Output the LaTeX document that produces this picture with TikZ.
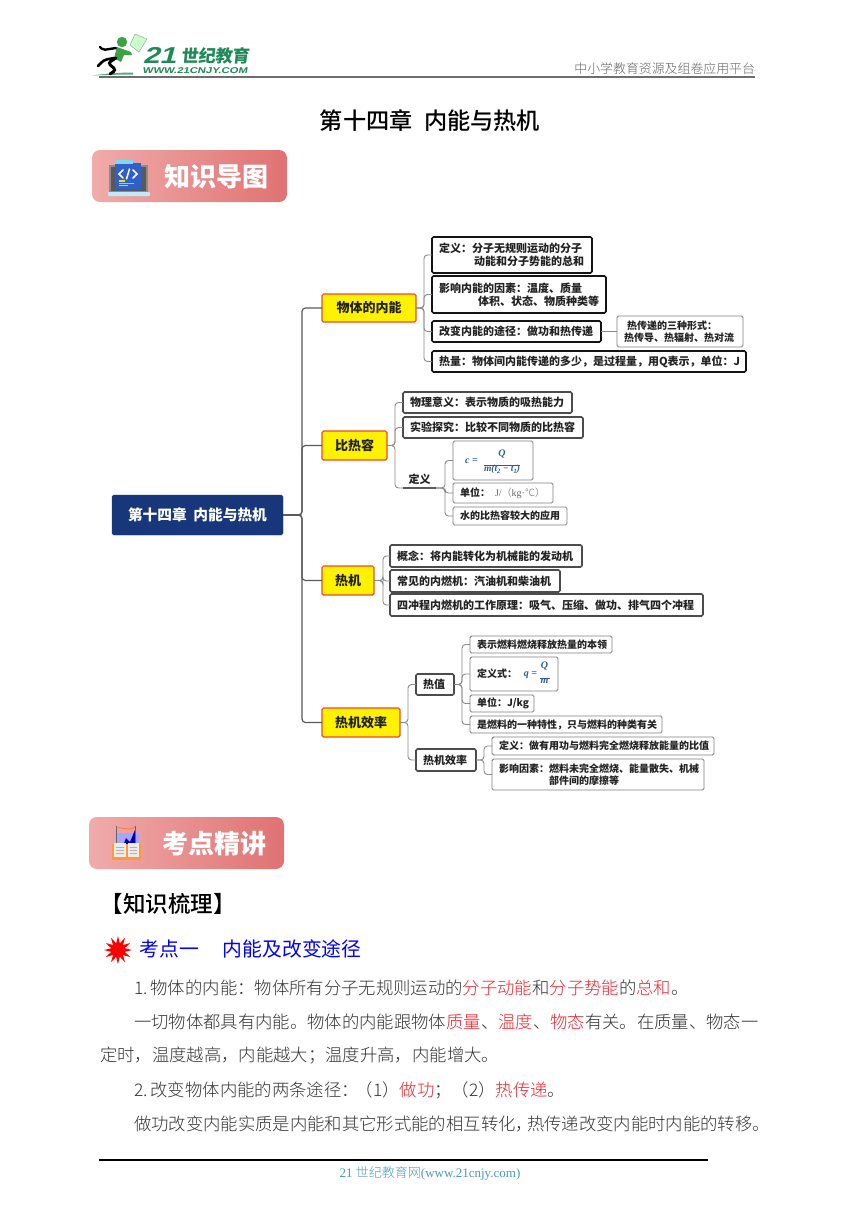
\documentclass[tikz,border=0pt]{standalone}
\usepackage{fontspec}
\setmainfont{Noto Sans CJK SC}
\newfontfamily\lightcjk{Noto Sans CJK SC Light}
\newfontfamily\medcjk{Noto Sans CJK SC Medium}
\newfontfamily\sansbold[BoldFont=Liberation Sans Bold]{Liberation Sans}
\newfontfamily\serifl{Liberation Serif}
\usetikzlibrary{shapes.geometric}
\definecolor{navy}{HTML}{17377A}
\definecolor{conn}{HTML}{8A8A8A}
\definecolor{connd}{HTML}{5A5A5A}
\definecolor{boxred}{HTML}{F0472B}
\definecolor{logog}{HTML}{1F8A58}
\definecolor{headgray}{HTML}{6E6E6E}
\definecolor{formula}{HTML}{2F5C98}
\definecolor{footblue}{HTML}{4A9AC4}
\definecolor{txt}{HTML}{222222}
\definecolor{bodytxt}{HTML}{333333}
\definecolor{redt}{HTML}{F5222D}
\definecolor{docblue}{HTML}{2F5FC8}
\newcommand\fs[1]{\fontsize{#1}{#1}\selectfont}
\newcommand\red[1]{{\color{redt}#1}}
\newcommand\lowsub[1]{\raisebox{-1.5pt}{\fs{6.5}#1}}
% style, name, x1, y1, x2, y2, text
\newcommand\bx[7]{%
  \pgfmathsetmacro\bxw{#5-#3-14}%
  \pgfmathsetmacro\bxh{#6-#4}%
  \pgfmathsetmacro\bxy{(#4+#6)/2}%
  \node[#1,anchor=west,text width=\bxw pt,minimum height=\bxh pt] (#2) at (#3,\bxy) {#7};}
\tikzset{
  x=1pt,y=-1pt,
  basebox/.style={rounded corners=1.6pt,inner xsep=7pt,inner ysep=0pt,outer sep=0pt,align=left,font=\fs{11}\bfseries,text=txt},
  blackbox/.style={basebox,draw=black!92,line width=1.6pt},
  darkbox/.style={basebox,draw=black!70,line width=1.6pt},
  thinbox/.style={basebox,draw=black!50,line width=.9pt,font=\fs{10}\bfseries},
  yellowbox/.style={basebox,fill=yellow,draw=boxred,line width=1.2pt,align=center,font=\fs{13}\bfseries},
  rootbox/.style={basebox,fill=navy,draw=navy,align=center,text=white,font=\fs{14.7}\bfseries},
  trunk/.style={draw=connd,line width=1.2pt,rounded corners=3.5pt},
  branch/.style={draw=conn,line width=.9pt,rounded corners=3.5pt},
  banner/.style={rounded corners=8pt,left color=#1,right color=bannerr,draw=none},
  plain/.style={inner sep=0pt,outer sep=0pt,anchor=west},
  bodyline/.style={plain,text=bodytxt,font=\lightcjk\fs{17.35}},
  fml/.style={inner sep=0pt,outer sep=0pt,text=formula,font=\serifl\bfseries\itshape\fs{10}},
}
\definecolor{bannerl}{HTML}{F0ABAB}
\definecolor{bannerr}{HTML}{E07272}
\begin{document}
\begin{tikzpicture}
\useasboundingbox (0,0) rectangle (860,1216);
\fill[white] (0,0) rectangle (860,1216);

% ---------- header logo
\fill[logog!75!white] (92,75.5) .. controls (110,73) and (125,72.5) .. (133,72.5) -- (133,74.5) .. controls (120,74.5) and (105,75) .. (92,75.5) -- cycle;
\fill[green!22!white,draw=black!40,line width=.4pt] (135,34) -- (147,39) -- (139,52) -- (130,45) -- cycle;
\fill[logog!80!lime] (122,42) circle (5.2);
\fill[logog!80!lime] (117,47) -- (131,52) -- (132,55) -- (124,55) -- (121,62) -- (114,58) -- cycle;
\draw[black,line width=2.4pt,line cap=round,rounded corners=2pt] (116,48) -- (103,50) -- (100,47);
\draw[black,line width=3pt,line cap=round,rounded corners=3pt] (116,58) -- (108,63) -- (116,70) -- (110,74);
\draw[black,line width=2.6pt,line cap=round,rounded corners=3pt] (114,58) -- (104,60) -- (98,66);
\node[plain,text=logog,xslant=.28,font=\sansbold\bfseries\fs{23}] (logoa) at (145,55.5) {\scalebox{1.3}[1]{21}};
\node[plain,text=logog,font=\bfseries\fs{17.2},xslant=.1] (logob) at (182,55.5) {世纪教育};
\node[plain,text=logog,xslant=.2,font=\sansbold\bfseries\fs{8.4}] (logoc) at (143,70.6) {\scalebox{1.34}[1]{WWW.21CNJY.COM}};
\node[plain,anchor=east,text=black!60,font=\lightcjk\fs{12.9}] (headt) at (755,68.5) {中小学教育资源及组卷应用平台};
\coordinate (hra) at (99,77); \coordinate (hrb) at (755,77);
\draw[headgray,line width=1.8pt] (hra) -- (hrb);

% ---------- title
\node[inner sep=0pt,text=black,font=\medcjk\fs{23.2}] (title) at (430,121) {第十四章\hspace{.5em}内能与热机};

% ---------- banner 1
\path[banner=bannerl] (92,150) rectangle (287,202);
\node[plain,text=white,font=\bfseries\fs{26}] (bant) at (164,177) {知识导图};
\fill[black!45] (109,165) rectangle (148,193);
\fill[black!65] (111,167) rectangle (146,191);
\fill[docblue] (115,163) rectangle (141,189);
\fill[cyan!50!white] (115,160) rectangle (133,164);
\fill[cyan!25!white,rounded corners=.8pt] (108,192) rectangle (150,196);
\draw[white,line width=1.5pt,line cap=round] (123,170) -- (119,174) -- (123,178);
\draw[white,line width=1.5pt,line cap=round] (133,170) -- (137,174) -- (133,178);
\draw[white,line width=1.5pt,line cap=round] (129.5,169) -- (126.5,179);
\fill[yellow!80!orange] (119,180) rectangle (125,181.5);
\fill[cyan!50!white] (119,182.5) rectangle (134,183.5);
\fill[cyan!40!white] (119,185) rectangle (128,186);

% ---------- mind map nodes
\bx{rootbox}{root}{112}{495}{283}{535}{第十四章\hspace{.45em}内能与热机}

\bx{yellowbox}{wnn}{322}{294}{416}{322}{物体的内能}
\bx{blackbox}{wa}{432}{237}{592}{273}{定义：分子无规则运动的分子\\[2pt]\hspace*{35pt}动能和分子势能的总和}
\bx{blackbox}{wb}{432}{276}{606}{313}{影响内能的因素：温度、质量\\[2pt]\hspace*{39pt}体积、状态、物质种类等}
\bx{blackbox}{wc}{432}{321}{601}{342}{改变内能的途径：做功和热传递}
\bx{thinbox}{wd}{617}{316}{743}{347}{\hspace*{3pt}热传递的三种形式：\\[2pt]热传导、热辐射、热对流}
\bx{blackbox}{we}{432}{351}{746}{372}{热量：物体间内能传递的多少，是过程量，用Q表示，单位：J}

\bx{yellowbox}{brr}{322}{431}{387}{460}{比热容}
\bx{darkbox}{ba}{403}{392}{572}{413}{物理意义：表示物质的吸热能力}
\bx{darkbox}{bb}{403}{417}{583}{438}{实验探究：比较不同物质的比热容}
\node[inner sep=0pt,outer sep=0pt,minimum width=33pt,minimum height=18pt,font=\fs{11}\bfseries,text=txt] (bdef) at (419.5,479) {定义};
\draw[connd,line width=1.6pt] (bdef.south west) -- (bdef.south east);
\bx{thinbox}{bf}{453}{441}{533}{480}{}
\node[fml] (bfc) at (471.5,461.5) {c = };
\node[fml] (bfq) at (502,453.5) {Q};
\node[fml,font=\serifl\bfseries\itshape\fs{9.5}] (bfd) at (502,469.5) {m(t\lowsub{2} − t\lowsub{1})};
\draw[formula,line width=.7pt] (bfd.north west) -- (bfd.north east);
\bx{thinbox}{bu}{453}{483}{553}{503}{\mbox{单位：\hspace{5pt}{\mdseries\color{black!60}{\serifl J/}{\lightcjk（}{\serifl kg·}{\lightcjk ℃）}}}}
\bx{thinbox}{bw}{453}{507}{567}{525}{水的比热容较大的应用}

\bx{yellowbox}{rj}{322}{566}{374}{595}{热机}
\bx{darkbox}{ra}{390}{545}{582}{567}{概念：将内能转化为机械能的发动机}
\bx{darkbox}{rb}{390}{570}{560}{592}{常见的内燃机：汽油机和柴油机}
\bx{darkbox}{rc}{390}{594}{703}{616}{四冲程内燃机的工作原理：吸气、压缩、做功、排气四个冲程}

\bx{yellowbox}{rx}{322}{708}{400}{737}{热机效率}
\bx{darkbox}{ha}{416}{674}{454}{695}{热值}
\bx{darkbox}{hb}{416}{749}{476}{771}{热机效率}
\bx{thinbox}{haa}{470}{636}{612}{653}{表示燃料燃烧释放热量的本领}
\bx{thinbox}{hab}{470}{657}{558}{691}{定义式：}
\node[fml] (hfc) at (530.5,675) {q = };
\node[fml] (hfq) at (544.5,666) {Q};
\node[fml] (hfm) at (544.5,681) {m};
\draw[formula,line width=.7pt] (hfm.north west) ++(-1,0) -- ++(10,0);
\bx{thinbox}{hac}{470}{695}{534}{712}{单位：J/kg}
\bx{thinbox}{had}{470}{716}{662}{733}{是燃料的一种特性，只与燃料的种类有关}
\bx{thinbox}{hba}{492}{737}{714}{755}{定义：做有用功与燃料完全燃烧释放能量的比值}
\bx{thinbox}{hbb}{492}{759}{704}{790}{影响因素：燃料未完全燃烧、能量散失、机械\\[2pt]\hspace*{50pt}部件间的摩擦等}

% ---------- connectors
\foreach \t in {wnn,brr,rj,rx} \draw[trunk] (root.east) -- (302,515) |- (\t.west);
\foreach \t in {wa,wb,wc,we} \draw[branch] (wnn.east) -- ++(8,0) |- (\t.west);
\draw[branch] (wc.east) -- (wc.east -| wd.west);
\foreach \t in {ba,bb} \draw[branch] (brr.east) -- ++(8,0) |- (\t.west);
\draw[branch] (brr.east) -- ++(8,0) |- (bdef.south west);
\foreach \t in {bf,bu,bw} \draw[branch] (bdef.south east) -- ++(9,0) |- (\t.west);
\foreach \t in {ra,rb,rc} \draw[branch] (rj.east) -- ++(9,0) |- (\t.west);
\foreach \t in {ha,hb} \draw[branch] (rx.east) -- ++(8,0) |- (\t.west);
\foreach \t in {haa,hab,hac,had} \draw[branch] (ha.east) -- ++(8,0) |- (\t.west);
\foreach \t in {hba,hbb} \draw[branch] (hb.east) -- ++(8,0) |- (\t.west);

% ---------- banner 2
\path[banner=bannerl] (89,817) rectangle (284,869);
\node[plain,text=white,font=\bfseries\fs{26}] (bant2) at (162,844) {考点精讲};
\fill[blue!35!white] (116,833) rectangle (139,846);
\fill[blue!70!black] (123,846) -- (126,838) -- (130,842) -- (135,830) -- (135,846) -- cycle;
\draw[black!60,line width=.8pt] (116,826) -- (116,846);
\draw[black!60,line width=.8pt] (135,826) -- (135,846);
\draw[orange!70!red!80!white,line width=.8pt] (116,828) .. controls (122,826) and (128,832) .. (135,827);
\fill[orange!80!white] (112,844) rectangle (141,860);
\fill[black!8] (114,843) rectangle (126,857);
\fill[black!8] (128,843) rectangle (139,857);
\draw[black!30,line width=.5pt] (116,847) -- (124,847) (116,850) -- (124,850) (116,853) -- (124,853) (130,847) -- (137,847) (130,850) -- (137,850) (130,853) -- (137,853);

% ---------- body
\node[plain,text=black,font=\medcjk\fs{22.5}] (hz) at (100.5,904) {【知识梳理】};
\node[star,star points=12,star point ratio=2,fill=red,minimum size=28pt,inner sep=0pt] (spark) at (118,950) {};
\node[plain,text=blue,font=\fs{19.8}] (kd) at (139.5,949) {考点一\hspace{24pt}内能及改变途径};

\node[bodyline] (l1) at (134,988) {1.\hspace{3pt}物体的内能：物体所有分子无规则运动的\red{分子动能}和\red{分子势能}的\red{总和}。};
\node[bodyline] (l2) at (134,1022) {一切物体都具有内能。物体的内能跟物体\red{质量}、\red{温度}、\red{物态}有关。在质量、物态一};
\node[bodyline] (l3) at (100,1056) {定时，温度越高，内能越大；温度升高，内能增大。};
\node[bodyline] (l4) at (134,1090) {2.\hspace{3pt}改变物体内能的两条途径：\hspace{-3pt}（1）\red{做功}；（2）\red{热传递}。};
\node[bodyline] (l5) at (134,1124) {做功改变内能实质是内能和其它形式能的相互转化，\hspace{-6pt}热传递改变内能时内能的转移。};

\coordinate (fa) at (99,1160); \coordinate (fb) at (708,1160);
\draw[black,line width=1.1pt] (fa) -- (fb);
\node[inner sep=0pt,text=footblue,font=\serifl\fs{13}] (foot) at (430,1173) {21 {\lightcjk 世纪教育网}(www.21cnjy.com)};
\end{tikzpicture}
\end{document}
